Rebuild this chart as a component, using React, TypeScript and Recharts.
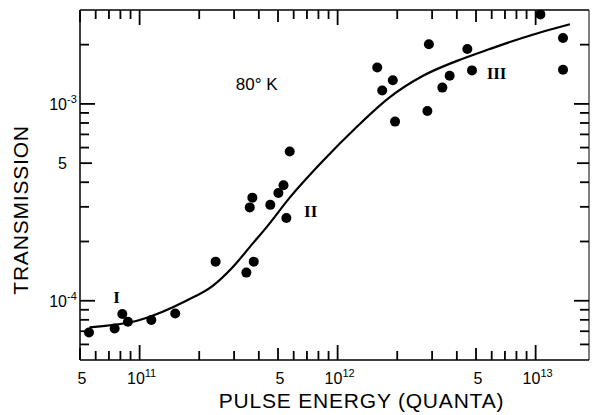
import React from 'react';
import { ComposedChart, Scatter, Line, XAxis, YAxis, ReferenceDot, ReferenceLine } from 'recharts';

// measured points (pulse energy in quanta, transmission)
const pointEnergy = [
    5.55e10, 7.48e10, 8.18e10, 8.73e10, 1.146e11, 1.513e11, 2.42e11, 3.46e11, 3.77e11, 3.6e11,
    3.71e11, 4.57e11, 5.02e11, 5.33e11, 5.51e11, 5.73e11, 1.585e12, 1.68e12, 1.9e12, 1.95e12,
    2.89e12, 2.84e12, 3.38e12, 3.68e12, 4.52e12, 4.77e12, 1.057e13, 1.375e13, 1.375e13,
];
const pointTrans = [
    6.9e-5, 7.23e-5, 8.56e-5, 7.82e-5, 7.98e-5, 8.62e-5, 1.58e-4, 1.39e-4, 1.58e-4, 2.98e-4,
    3.34e-4, 3.07e-4, 3.53e-4, 3.86e-4, 2.63e-4, 5.73e-4, 1.53e-3, 1.17e-3, 1.32e-3, 8.13e-4,
    2.01e-3, 9.21e-4, 1.21e-3, 1.39e-3, 1.9e-3, 1.48e-3, 2.85e-3, 2.16e-3, 1.49e-3,
];

// fitted curve
const curveEnergy = [
    5.58e10, 1e11, 1.72e11, 2.34e11, 2.95e11, 3.72e11, 4.37e11, 5.73e11, 8.44e11,
    1.24e12, 1.83e12, 2.7e12, 3.98e12, 5.86e12, 8.63e12, 1.49e13,
];
const curveTrans = [
    7.33e-5, 7.98e-5, 1.0e-4, 1.19e-4, 1.48e-4, 1.95e-4, 2.36e-4, 3.34e-4, 5.14e-4,
    7.59e-4, 1.08e-3, 1.39e-3, 1.65e-3, 1.9e-3, 2.17e-3, 2.54e-3,
];

const xTicks = [
    5e10, 6e10, 7e10, 8e10, 9e10, 1e11, 2e11, 3e11, 4e11, 5e11, 6e11, 7e11, 8e11, 9e11,
    1e12, 2e12, 3e12, 4e12, 5e12, 6e12, 7e12, 8e12, 9e12, 1e13,
];
const yTicks = [
    6e-5, 7e-5, 8e-5, 9e-5, 1e-4, 2e-4, 3e-4, 4e-4, 5e-4, 6e-4, 7e-4, 8e-4, 9e-4, 1e-3, 2e-3,
];
const xMajor = [1e11, 1e12, 1e13];
const yMajor = [1e-4, 1e-3];
const xLabels: Record<string, [string, string]> = {
    [String(5e10)]: ['5', ''],
    [String(1e11)]: ['10', '11'],
    [String(5e11)]: ['5', ''],
    [String(1e12)]: ['10', '12'],
    [String(5e12)]: ['5', ''],
    [String(1e13)]: ['10', '13'],
};
const yLabels: Record<string, [string, string]> = {
    [String(1e-4)]: ['10', '-4'],
    [String(5e-4)]: ['5', ''],
    [String(1e-3)]: ['10', '-3'],
};

const notes = [
    { x: 3.9e11, y: 1.26e-3, text: '80° K', serif: false },
    { x: 7.66e10, y: 1.035e-4, text: 'I', serif: true },
    { x: 7.31e11, y: 2.83e-4, text: 'II', serif: true },
    { x: 6.35e12, y: 1.42e-3, text: 'III', serif: true },
];

const points = pointEnergy.map((x, i) => ({ x, y: pointTrans[i] }));
const curve = curveEnergy.map((x, i) => ({ x, y: curveTrans[i] }));

const W = 592;
const H = 415;
const TOP = 10;
const BOTTOM = 360;
const LEFT = 80;
const RIGHT = 589;
const FONT = '"Liberation Sans", Arial, sans-serif';

const tickLen = (v: number, major: number[]) => {
    if (major.includes(v)) return 15;
    const m = v / Math.pow(10, Math.floor(Math.log10(v) + 1e-9));
    return Math.abs(m - 5) < 0.01 ? 12 : 9;
};

// axis tick components only draw the labels; the marks come from ReferenceLine shapes below
const BottomTick = (props: any) => {
    const { x, payload } = props;
    const lab = xLabels[String(payload.value)];
    if (!lab) return <g />;
    return (
        <text x={x + 2} y={BOTTOM + 24} textAnchor="middle" fontSize={16} fontFamily={FONT} fill="#000">
            {lab[0]}
            {lab[1] && <tspan dy={-7} fontSize={11}>{lab[1]}</tspan>}
        </text>
    );
};

const LeftTick = (props: any) => {
    const { y, payload } = props;
    const lab = yLabels[String(payload.value)];
    if (!lab) return <g />;
    return (
        <g>
            <text x={67} y={y + 6} textAnchor="end" fontSize={16} fontFamily={FONT} fill="#000">
                {lab[0]}
            </text>
            {lab[1] && (
                <text x={67} y={y - 1} textAnchor="start" fontSize={11} fontFamily={FONT} fill="#000">
                    {lab[1]}
                </text>
            )}
        </g>
    );
};

// inward tick marks on both sides of the frame
const xMark = (v: number) => (p: any) => {
    const len = tickLen(v, xMajor);
    const top = Math.min(p.y1, p.y2);
    const bot = Math.max(p.y1, p.y2);
    return (
        <g>
            <line x1={p.x1} y1={bot} x2={p.x1} y2={bot - len} stroke="#000" strokeWidth={1.8} />
            <line x1={p.x1} y1={top} x2={p.x1} y2={top + len} stroke="#000" strokeWidth={1.8} />
        </g>
    );
};

const yMark = (v: number) => (p: any) => {
    const len = tickLen(v, yMajor);
    const l = Math.min(p.x1, p.x2);
    const r = Math.max(p.x1, p.x2);
    return (
        <g>
            <line x1={l} y1={p.y1} x2={l + len} y2={p.y1} stroke="#000" strokeWidth={1.8} />
            <line x1={r} y1={p.y1} x2={r - len} y2={p.y1} stroke="#000" strokeWidth={1.8} />
        </g>
    );
};

const Dot = (p: any) => <circle cx={p.cx} cy={p.cy} r={5} fill="#000" />;

export default function App() {
    return (
        <div style={{ position: 'fixed', left: 0, top: 0, width: W, height: H, background: '#fff' }}>
            <ComposedChart width={W} height={H} margin={{ top: 0, right: 0, bottom: 0, left: 0 }}>
                <XAxis
                    xAxisId="bottom"
                    dataKey="x"
                    type="number"
                    scale="log"
                    domain={[5e10, 1.86e13]}
                    allowDataOverflow
                    ticks={xTicks}
                    interval={0}
                    height={H - BOTTOM}
                    tickLine={false}
                    axisLine={{ stroke: '#000', strokeWidth: 1.5 }}
                    tick={(p: any) => <BottomTick {...p} />}
                    label={{
                        content: (p: any) => (
                            <text
                                x={p.viewBox.x + p.viewBox.width / 2 + 27}
                                y={p.viewBox.y + 48}
                                textAnchor="middle"
                                fontSize={21}
                                letterSpacing={0.8}
                                fontFamily={FONT}
                                fill="#000"
                            >
                                PULSE ENERGY (QUANTA)
                            </text>
                        ),
                    }}
                />
                <XAxis
                    xAxisId="top"
                    orientation="top"
                    dataKey="x"
                    type="number"
                    scale="log"
                    domain={[5e10, 1.86e13]}
                    allowDataOverflow
                    height={TOP}
                    tickLine={false}
                    tick={false}
                    axisLine={{ stroke: '#000', strokeWidth: 1.5 }}
                />
                <YAxis
                    yAxisId="left"
                    dataKey="y"
                    type="number"
                    scale="log"
                    domain={[5e-5, 3e-3]}
                    allowDataOverflow
                    ticks={yTicks}
                    interval={0}
                    width={LEFT}
                    tickLine={false}
                    axisLine={{ stroke: '#000', strokeWidth: 1.5 }}
                    tick={(p: any) => <LeftTick {...p} />}
                    label={{
                        content: (p: any) => {
                            const cx = 20;
                            const cy = p.viewBox.y + p.viewBox.height / 2 + 25;
                            return (
                                <text
                                    x={cx}
                                    y={cy}
                                    transform={`rotate(-90 ${cx} ${cy})`}
                                    textAnchor="middle"
                                    dominantBaseline="central"
                                    fontSize={21}
                                    letterSpacing={0.8}
                                    fontFamily={FONT}
                                    fill="#000"
                                >
                                    TRANSMISSION
                                </text>
                            );
                        },
                    }}
                />
                <YAxis
                    yAxisId="right"
                    orientation="right"
                    dataKey="y"
                    type="number"
                    scale="log"
                    domain={[5e-5, 3e-3]}
                    allowDataOverflow
                    width={W - RIGHT}
                    tickLine={false}
                    tick={false}
                    axisLine={{ stroke: '#000', strokeWidth: 1 }}
                />
                {xTicks.map((v) => (
                    <ReferenceLine
                        key={`xm-${v}`}
                        xAxisId="bottom"
                        yAxisId="left"
                        x={v}
                        stroke="#000"
                        shape={xMark(v)}
                    />
                ))}
                {yTicks.map((v) => (
                    <ReferenceLine
                        key={`ym-${v}`}
                        xAxisId="bottom"
                        yAxisId="left"
                        y={v}
                        stroke="#000"
                        shape={yMark(v)}
                    />
                ))}
                <Line
                    xAxisId="bottom"
                    yAxisId="left"
                    data={curve}
                    dataKey="y"
                    type="monotone"
                    stroke="#000"
                    strokeWidth={2.2}
                    dot={false}
                    isAnimationActive={false}
                />
                <Scatter
                    xAxisId="bottom"
                    yAxisId="left"
                    data={points}
                    dataKey="y"
                    shape={<Dot />}
                    isAnimationActive={false}
                />
                {notes.map((n) => (
                    <ReferenceDot
                        key={n.text}
                        xAxisId="bottom"
                        yAxisId="left"
                        x={n.x}
                        y={n.y}
                        r={0}
                        fill="none"
                        stroke="none"
                        label={{
                            content: (p: any) => (
                                <text
                                    x={p.viewBox.x + p.viewBox.width / 2}
                                    y={p.viewBox.y + p.viewBox.height / 2}
                                    textAnchor="middle"
                                    dominantBaseline="central"
                                    fontSize={17}
                                    fontWeight={n.serif ? 'bold' : 'normal'}
                                    fontFamily={n.serif ? '"Liberation Serif", serif' : FONT}
                                    fill="#000"
                                >
                                    {n.text}
                                </text>
                            ),
                        }}
                    />
                ))}
            </ComposedChart>
        </div>
    );
}
